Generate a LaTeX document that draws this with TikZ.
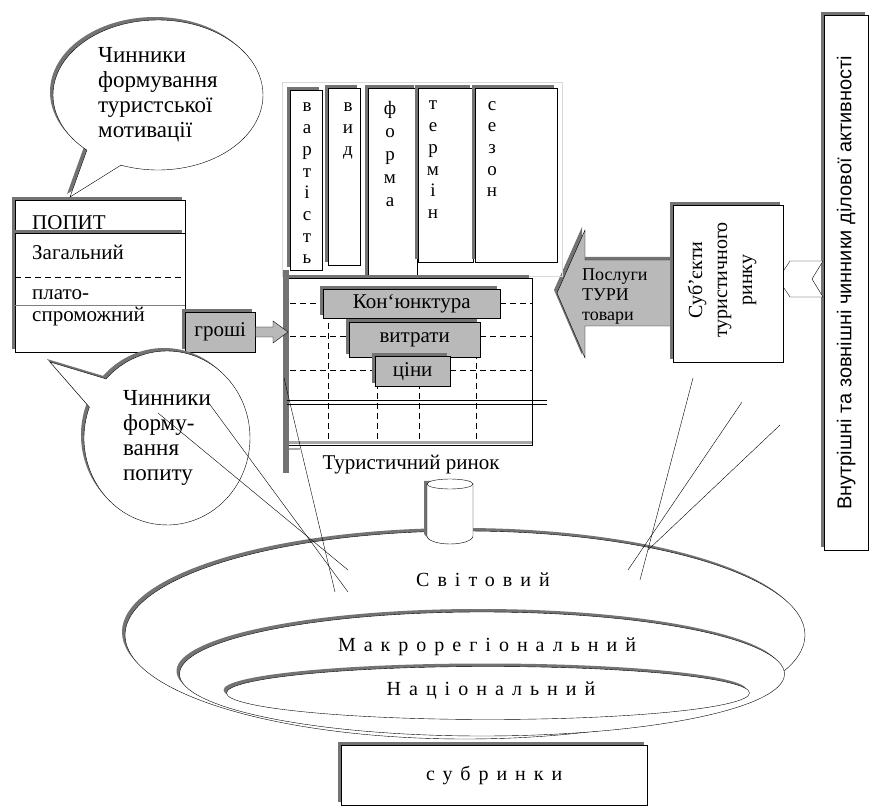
\documentclass[tikz,border=0pt]{standalone}
\usepackage{fontspec}
\setmainfont{Liberation Serif}
\newfontfamily\spacedfont[LetterSpace=40]{Liberation Serif}
\newfontfamily\factorsfont{Liberation Sans}
\usetikzlibrary{positioning,shapes.geometric,shapes.callouts,shadows}

\tikzset{
  shd/.style={drop shadow={shadow xshift=-3pt,shadow yshift=3pt,fill=black!55,opacity=1}},
  box/.style={draw,fill=white,shd,inner sep=0pt},
  greybox/.style={draw,fill=gray!55,shd,inner sep=0pt,font=\fontsize{21}{23}\selectfont},
  grid/.style={dash pattern=on 6pt off 4pt},
  txt/.style={inner sep=0pt,font=\fontsize{21}{23}\selectfont},
  coltxt/.style={inner sep=0pt,anchor=north,align=center,font=\fontsize{19}{21.7}\selectfont},
  bubble/.style={ellipse callout,draw,fill=white,shd,inner sep=0pt,callout pointer arc=22,align=left,font=\fontsize{23}{25}\selectfont},
  ring/.style={ellipse,draw,fill=white,shd,inner sep=0pt},
  ringtxt/.style={inner sep=0pt,font=\spacedfont\fontsize{20}{22}\selectfont},
}

\begin{document}
\begin{tikzpicture}[x=1pt,y=-1pt]
        \useasboundingbox (0,0) rectangle (871,810);
        % right side
        \node[box,minimum width=44,minimum height=535,anchor=north west] (factors) at (824,15) {};
        \node[rotate=90,inner sep=0pt,font=\factorsfont\fontsize{20}{22}\selectfont] at (factors.center) {Внутрішні та зовнішні чинники ділової активності};
        \draw[fill=white] (778,279) -- (790,261) -- (823,261) -- (812,279) -- (823,297) -- (790,297) -- cycle;
        \draw[fill=gray!55,shd] (676,260) -- (585,260) -- (585,230) -- (557,293) -- (585,358) -- (585,326) -- (676,326);
        \node[txt,align=left,anchor=west,font=\fontsize{18}{20}\selectfont] (posl) at (582,297) {Послуги\\ТУРИ\\товари};
        \node[box,minimum width=110,minimum height=157,anchor=north west] (subj) at (673,205) {};
        \node[rotate=90,align=center,inner sep=0pt,font=\fontsize{20}{25}\selectfont] at (722,280) {Суб’єкти\\туристичного\\ринку};
        % columns
        \draw[gray!30] (282,82) rectangle (562,276);
        \node[box,minimum width=32,minimum height=180,anchor=north west] (col1) at (290,90) {};
        \node[box,minimum width=32,minimum height=177,anchor=north west] (col2) at (328,88) {};
        \node[box,minimum width=49,minimum height=190,anchor=north west] (col3) at (368,88) {};
        \node[box,minimum width=55,minimum height=174,anchor=north west] (col4) at (418,88) {};
        \node[box,minimum width=82,minimum height=174,anchor=north west] (col5) at (475,88) {};
        \node[coltxt] at (307,103) {в\\а\\р\\т\\і\\с\\т\\ь};
        \node[coltxt] at (348,103) {в\\и\\д};
        \node[coltxt,font=\fontsize{19}{23}\selectfont] at (390,101) {ф\\о\\р\\м\\а};
        \node[coltxt] at (433,101) {т\\е\\р\\м\\і\\н};
        \node[coltxt] at (492,101) {с\\е\\з\\о\\н};
        % market
        \node[box,minimum width=245,minimum height=167,anchor=north west] (market) at (287,278) {};
        \fill[black!55] (283,270) rectangle (289,473);
        \draw[gray!70,line width=3] (289,443) -- (532,443);
        \draw[gray!70,line width=2] (289,449) -- (300,449);
        \draw[grid] (290,303) -- (532,303);
        \draw[grid] (290,336) -- (532,336);
        \draw[grid] (290,370) -- (532,370);
        \draw[grid] (328,303) -- (328,441);
        \draw[grid] (377,303) -- (377,441);
        \draw[grid] (419,303) -- (419,441);
        \draw[grid] (476,303) -- (476,441);
        \draw (287,400) -- (547,400);
        \draw (287,404) -- (547,404);
        \node[greybox,minimum width=177,minimum height=29,anchor=north west] (konj) at (323,289) {Кон`юнктура};
        \node[greybox,minimum width=131,minimum height=35,anchor=north west] (vytr) at (349,322) {витрати};
        \node[greybox,minimum width=75,minimum height=30,anchor=north west] (tsiny) at (375,356) {ціни};
        \node[txt] (rynok) at (411,465) {Туристичний ринок};
        % demand
        \node[box,minimum width=170,minimum height=40,anchor=north west] (popyt) at (15,200) {};
        \node[txt,anchor=west] at (32,223) {ПОПИТ};
        \node[box,minimum width=170,minimum height=119,anchor=north west] (zagal) at (15,233) {};
        \node[txt,anchor=west] at (32,252) {Загальний};
        \draw[grid] (zagal.west |- 0,277) -- (zagal.east |- 0,277);
        \draw[gray] (zagal.west |- 0,305) -- (zagal.east |- 0,305);
        \node[txt,anchor=west] at (32,295) {плато-};
        \node[txt,anchor=west] at (32,317) {спроможний};
        \node[greybox,minimum width=70,minimum height=40,anchor=north west] (groshi) at (185,312) {гроші};
        \draw[fill=gray!55] (groshi.east |- 0,327) -- (273,327) -- (273,321) -- (288,332) -- (273,343) -- (273,337) -- (groshi.east |- 0,337) -- cycle;
        % bubbles
        \node[bubble,minimum width=166,minimum height=174,callout absolute pointer={(50,362)}] (popbub) at (167,438) {Чинники\\форму-\\вання\\попиту};
        \node[bubble,minimum width=210,minimum height=150,callout absolute pointer={(70,197)}] (motbub) at (158,95) {Чинники\\формування\\туристської\\мотивації};
        % markets
        \node[ring,minimum width=680,minimum height=208] (world) at (465,635) {};
        \node[ring,minimum width=605,minimum height=124] (macro) at (482,674) {};
        \node[ring,minimum width=523,minimum height=53] (nation) at (488,693) {};
        \node[ringtxt] at (483,580) {Світовий};
        \node[ringtxt] at (487,647) {Макрорегіональний};
        \node[ringtxt] at (491,691) {Національний};
        \draw[fill=white,shd] (427,484) -- (427,536) arc[start angle=180,end angle=360,x radius=23pt,y radius=8pt] -- (473,484);
        \draw[fill=white] (450,484) ellipse [x radius=23pt,y radius=5pt];
        \node[box,minimum width=306,minimum height=60,anchor=north west,font=\spacedfont\fontsize{20}{22}\selectfont] (subr) at (341,745) {субринки};
        % rays
        \coordinate (la1) at (208,402);
        \coordinate (lb1) at (348,592);
        \coordinate (la2) at (158,413);
        \coordinate (lb2) at (348,570);
        \coordinate (la3) at (284,378);
        \coordinate (lb3) at (335,592);
        \coordinate (ra1) at (693,378);
        \coordinate (rb1) at (640,580);
        \coordinate (ra2) at (742,402);
        \coordinate (rb2) at (628,570);
        \coordinate (ra3) at (780,425);
        \coordinate (rb3) at (648,550);
        \draw (la1) -- (lb1);
        \draw (la2) -- (lb2);
        \draw (la3) -- (lb3);
        \draw (ra1) -- (rb1);
        \draw (ra2) -- (rb2);
        \draw (ra3) -- (rb3);
    \end{tikzpicture}
\end{document}
